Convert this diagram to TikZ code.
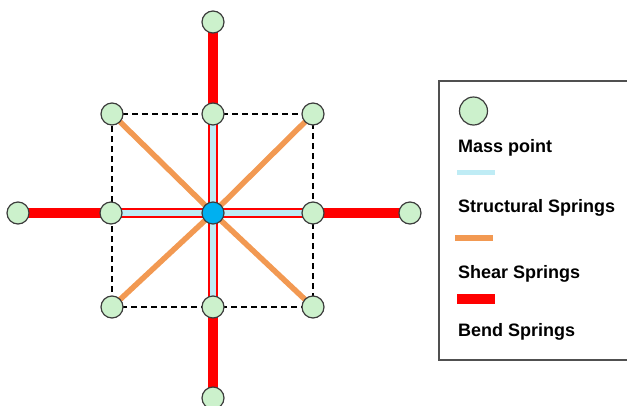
\documentclass[tikz,border=0pt]{standalone}
\usepackage{fontspec}
\setmainfont{Liberation Sans}
\definecolor{massgreen}{RGB}{204,241,204}
\definecolor{centerblue}{RGB}{0,176,240}
\definecolor{structblue}{RGB}{191,236,245}
\definecolor{shearorange}{RGB}{242,153,82}
\definecolor{bendred}{RGB}{255,0,0}
\definecolor{outline}{RGB}{60,60,60}
\begin{document}
\begin{tikzpicture}[x=1pt,y=-1pt,
  mass/.style={circle,draw=outline,line width=1.2pt,fill=massgreen,minimum size=22pt,inner sep=0pt},
  centermass/.style={mass,fill=centerblue},
  bendline/.style={draw=bendred,line width=10.5pt},
  structline/.style={draw=structblue,line width=6pt},
  shearline/.style={draw=shearorange,line width=5.5pt},
  frameline/.style={draw=black,line width=1.2pt,dash pattern=on 6pt off 4pt},
  legtext/.style={anchor=base west,font=\fontsize{18}{21}\selectfont\bfseries,inner sep=0pt}]
\useasboundingbox (0,0) rectangle (627,405);
% coordinates
\coordinate (pTL) at (112,114);
\coordinate (pT) at (213,114);
\coordinate (pTR) at (313,114);
\coordinate (pL) at (111,213);
\coordinate (pC) at (213,213);
\coordinate (pR) at (313,213);
\coordinate (pBL) at (112,307);
\coordinate (pB) at (213,307);
\coordinate (pBR) at (313,307);
\coordinate (pTT) at (213,22);
\coordinate (pBB) at (213,398);
\coordinate (pLL) at (18,213);
\coordinate (pRR) at (410,213);
% dashed square
\draw[frameline] (pTL) -- (pTR) -- (pBR) -- (pBL) -- cycle;
% shear springs
\draw[shearline] (pTL) -- (pC);
\draw[shearline] (pTR) -- (pC);
\draw[shearline] (pBL) -- (pC);
\draw[shearline] (pBR) -- (pC);
% bend springs
\draw[bendline] (pTT) -- (pBB);
\draw[bendline] (pLL) -- (pRR);
% structural springs
\draw[structline] (pT) -- (pB);
\draw[structline] (pL) -- (pR);
% mass points
\node[mass] (nTL) at (pTL) {};
\node[mass] (nT) at (pT) {};
\node[mass] (nTR) at (pTR) {};
\node[mass] (nL) at (pL) {};
\node[mass] (nR) at (pR) {};
\node[mass] (nBL) at (pBL) {};
\node[mass] (nB) at (pB) {};
\node[mass] (nBR) at (pBR) {};
\node[mass] (nTT) at (pTT) {};
\node[mass] (nBB) at (pBB) {};
\node[mass] (nLL) at (pLL) {};
\node[mass] (nRR) at (pRR) {};
\node[centermass] (nC) at (pC) {};
% legend
\draw[draw=outline!90,line width=1.4pt] (439,81) rectangle (632,360);
\node[mass,minimum size=28pt] (legmass) at (473.5,111) {};
\node[legtext] (t1) at (458,152) {Mass point};
\draw[structblue,line width=5pt] (457,172.5) -- (495,172.5);
\node[legtext] (t2) at (458,212) {Structural Springs};
\draw[shearorange,line width=5.5pt] (455,238) -- (493,238);
\node[legtext] (t3) at (458,278) {Shear Springs};
\draw[bendred,line width=10pt] (457,299) -- (495,299);
\node[legtext] (t4) at (458,336) {Bend Springs};
\end{tikzpicture}
\end{document}
